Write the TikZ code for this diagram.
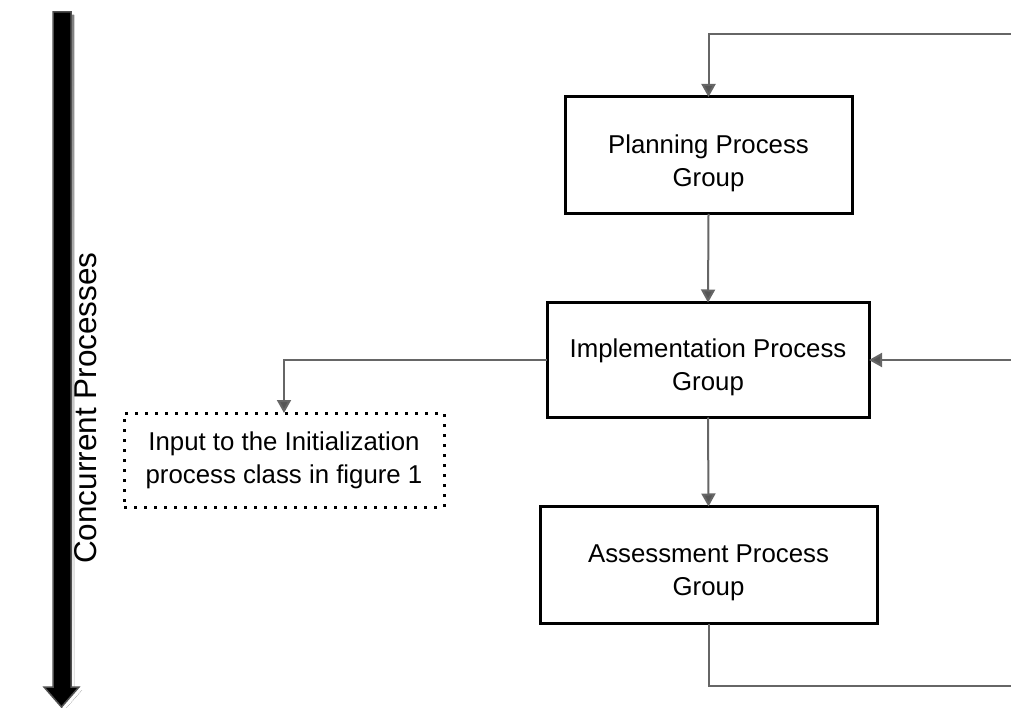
\documentclass[tikz,border=0pt]{standalone}
\usepackage{fontspec}
\setmainfont{Liberation Sans}
\usetikzlibrary{arrows.meta}
\definecolor{conn}{HTML}{666666}
\definecolor{tipc}{HTML}{555555}
\definecolor{shade}{HTML}{D0D0D0}
\definecolor{rim}{HTML}{505050}
\newcommand{\lowerstrut}{\rule{0pt}{34pt}}
\tikzset{
  boxfont/.style={font=\fontsize{25.8}{33}\selectfont},
  procbox/.style={draw=black, line width=3pt, fill=white, inner sep=0pt, outer sep=0pt,
    align=center, boxfont},
  dotbox/.style={draw=black, line width=3pt, dash pattern=on 3pt off 7pt, inner sep=0pt, outer sep=0pt,
    align=center, boxfont},
  connarrow/.style={draw=conn, line width=2pt, -{Triangle[length=13pt,width=14pt,fill=tipc]}},
  connline/.style={draw=conn, line width=2pt},
}
\begin{document}
\begin{tikzpicture}[x=1pt,y=-1pt]
\useasboundingbox (0,0) rectangle (1011,708);
% thick time arrow with shadow
\fill[shade] (56,15) -- (74,15) -- (74,690) -- (82,690) -- (64.5,710) -- (47,690) -- (56,690) -- cycle;
\filldraw[fill=black, draw=rim, line width=1.5pt] (53,12) -- (71,12) -- (71,687) -- (79,687) -- (61.5,707) -- (44,687) -- (53,687) -- cycle;
\node[rotate=90, font=\fontsize{31.5}{36}\selectfont] (conc) at (86,408) {Concurrent Processes};
% process boxes
\node[procbox, minimum width=287pt, minimum height=117pt] (plan) at (708.5,155.5) {\lowerstrut Planning Process\\Group};
\node[procbox, minimum width=322pt, minimum height=115pt] (impl) at (708,360) {\lowerstrut Implementation Process\\Group};
\node[procbox, minimum width=337pt, minimum height=117pt] (assess) at (708.5,565) {\lowerstrut Assessment Process\\Group};
\node[dotbox, minimum width=320pt, minimum height=94pt] (input) at (284,460) {Input to the Initialization\\process class in figure 1};
% free ends
\coordinate (topin) at (1011,34);
\coordinate (midin) at (1011,360);
\coordinate (botout) at (1011,686);
% connectors
\draw[connarrow] (topin) -| (plan.north);
\draw[connarrow] (plan.south) -- (impl.north);
\draw[connarrow] (midin) -- (impl.east);
\draw[connarrow] (impl.south) -- (assess.north);
\draw[connarrow] (impl.west) -| (input.north);
\draw[connline] (assess.south) |- (botout);
\end{tikzpicture}
\end{document}
